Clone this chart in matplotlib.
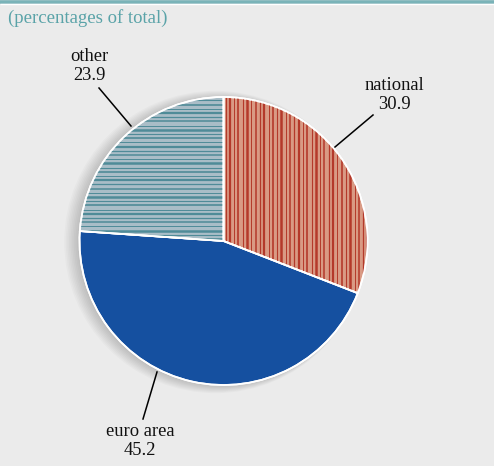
import numpy as np
import matplotlib
matplotlib.use("Agg")
import matplotlib.pyplot as plt
from matplotlib.patches import Circle, Wedge

labels = ["national", "euro area", "other"]
shares = [30.9, 45.2, 23.9]

bg = "#ebebeb"
plt.rcParams["font.family"] = ["Liberation Serif", "DejaVu Serif"]

fig = plt.figure(figsize=(4.94, 4.66), dpi=100, facecolor=bg)
ax = fig.add_axes([0, 0, 1, 1])
ax.set_aspect("equal")
ax.axis("off")

cx, cy, r = 223.5, 225, 144

# soft shadow on the left of the pie
for k in range(9):
    ax.add_patch(Circle((cx - 2.5 - k * 0.7, cy - 1), r + k * 0.9,
                        facecolor="black", edgecolor="none", alpha=0.02, zorder=1))

wedges, _ = ax.pie(shares, center=(cx, cy), radius=r, startangle=90, counterclock=False,
                   colors=["#d99a84", "#1550a0", "#a9bdc7"],
                   wedgeprops=dict(edgecolor="white", linewidth=1.2))
for w in wedges:
    w.set_zorder(2)
ax.set_xlim(0, 494)
ax.set_ylim(0, 466)

# striped fills for national and other
widths = [0.9, 1.6, 0.7, 1.2, 0.8, 1.8, 0.7, 1.1]
xs = np.arange(cx + 2, cx + r, 4.3)
for i, x in enumerate(xs):
    ln = ax.plot([x, x], [cy - r, cy + r], color="#b4392a", lw=widths[i % len(widths)],
                 zorder=3, solid_capstyle="butt")[0]
    ln.set_clip_path(wedges[0])
ys = np.arange(cy + 2, cy + r, 4.2)
for i, y in enumerate(ys):
    ln = ax.plot([cx - r, cx], [y, y], color="#4f8b98", lw=widths[(i + 3) % len(widths)],
                 zorder=3, solid_capstyle="butt")[0]
    ln.set_clip_path(wedges[2])

# redraw the white outlines over the stripes
for w in wedges:
    ax.add_patch(Wedge(w.center, w.r, w.theta1, w.theta2,
                       facecolor="none", edgecolor="white", lw=1.3, zorder=4))

# labels with leader lines (pixel positions measured from top)
H = 466
ann = [
    ("national", shares[0], (394, 95), (335, 147), (373, 115)),
    ("euro area", shares[1], (140, 441), (157, 372), (143, 419)),
    ("other", shares[2], (89, 66), (131, 126), (99, 88)),
]
for name, val, (tx, ty), (x0, y0), (x1, y1) in ann:
    ax.plot([x0, x1], [H - y0, H - y1], color="black", lw=1.1, zorder=5)
    ax.text(tx, H - ty, f"{name}\n{val:.1f}", ha="center", va="center",
            fontsize=13.3, linespacing=1.12, color="#111111", zorder=5)

ax.text(8, H - 18, "(percentages of total)", ha="left", va="center",
        fontsize=13.5, color="#5aa3a8")

# teal rule along the top
ax.plot([0, 494], [H - 1.5, H - 1.5], color="#7ab3b8", lw=2.6, solid_capstyle="butt")
ax.plot([0, 494], [H - 3.8, H - 3.8], color="white", lw=1.0, solid_capstyle="butt")

fig.savefig("out.png", dpi=100, facecolor=bg)
